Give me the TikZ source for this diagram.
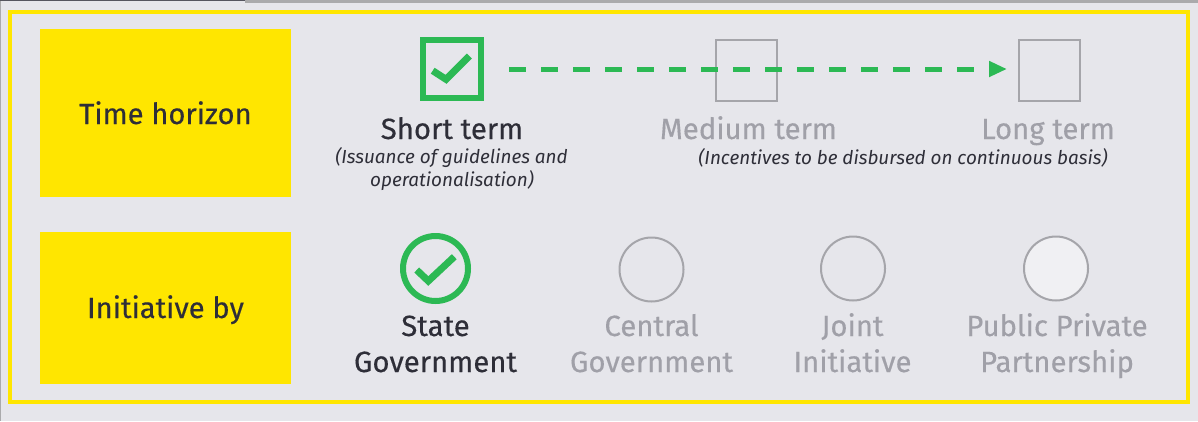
\documentclass[tikz,border=0pt]{standalone}
\usepackage{fontspec}
\setmainfont{Fira Sans}
\newfontfamily\medfira{Fira Sans}[FakeBold=0.35]
\usetikzlibrary{arrows.meta}
\definecolor{bg}{RGB}{230,230,235}
\definecolor{eyyellow}{RGB}{255,230,0}
\definecolor{okgreen}{RGB}{44,185,84}
\definecolor{darktext}{RGB}{46,46,56}
\definecolor{graytext}{RGB}{160,160,168}
\definecolor{graystroke}{RGB}{165,165,170}
\definecolor{pppfill}{RGB}{240,240,243}
\definecolor{edgedark}{RGB}{85,85,95}
\definecolor{edgegray}{RGB}{170,170,172}
\tikzset{
  labelbox/.style={fill=eyyellow, minimum width=251pt, inner sep=0pt, outer sep=0pt},
  labeltext/.style={font=\medfira\fontsize{29.2}{34}\selectfont, text=darktext, anchor=base, inner sep=0pt},
  bigdark/.style={font=\medfira\fontsize{29.3}{34}\selectfont, text=darktext, anchor=base, inner sep=0pt},
  biggray/.style={font=\medfira\fontsize{29.3}{34}\selectfont, text=graytext, anchor=base, inner sep=0pt},
  note/.style={font=\fontsize{18.9}{22}\selectfont\itshape, text=darktext, anchor=base, inner sep=0pt},
  donebox/.style={draw=okgreen, line width=6pt, minimum size=58pt, inner sep=0pt, outer sep=0pt},
  openbox/.style={draw=graystroke, line width=2pt, minimum size=61pt, inner sep=0pt, outer sep=0pt},
  donecircle/.style={circle, draw=okgreen, line width=6pt, minimum size=65pt, inner sep=0pt, outer sep=0pt},
  opencircle/.style={circle, draw=graystroke, line width=2pt, minimum size=64pt, inner sep=0pt, outer sep=0pt},
  tick/.style={draw=okgreen, line width=7pt, line cap=butt, line join=miter},
  flow/.style={draw=okgreen, line width=5pt, dash pattern=on 17pt off 15pt, -{Triangle[length=18pt,width=15pt]}},
}
\begin{document}
\begin{tikzpicture}[x=1pt,y=-1pt]
\useasboundingbox (0,0) rectangle (1198,421);
\fill[bg] (0,0) rectangle (1198,421);
% window edges
\fill[edgegray] (245,0) rectangle (1198,2.5);
\fill[edgedark] (0,0) rectangle (245,1.4);
\fill[edgegray] (0,1.4) rectangle (1.3,421);
% yellow frame
\draw[eyyellow, line width=4pt] (10,12) rectangle (1188,401.5);

% label boxes
\node[labelbox, minimum height=168pt] (lbtime) at (165.5,113) {};
\node[labeltext] (txtime) at (165.5,124) {Time horizon};
\node[labelbox, minimum height=152pt] (lbinit) at (165.5,308) {};
\node[labeltext] (txinit) at (165.5,318) {Initiative by};

% time horizon row
\node[openbox] (sqmed) at (746,70.5) {};
\node[openbox] (sqlong) at (1049,70) {};
\node[donebox] (sqshort) at (452,69) {};
\draw[tick] ([shift={(-19.3,1.7)}]sqshort.center) -- ([shift={(-6,10.3)}]sqshort.center) -- ([shift={(17.3,-13)}]sqshort.center);
\draw[flow] ([xshift=28pt]sqshort.east) -- ([xshift=-11.5pt]sqlong.west |- sqshort.east);

\node[bigdark] (tshort) at (452,139) {Short term};
\node[biggray] (tmed) at (748.5,139) {Medium term};
\node[biggray] (tlong) at (1048,139) {Long term};
\node[note] (nshorta) at (451.5,163) {(Issuance of guidelines and};
\node[note] (nshortb) at (452,186) {operationalisation)};
\node[note] (nlong) at (903,164) {(Incentives to be disbursed on continuous basis)};

% initiative row
\node[donecircle] (cstate) at (435.5,268.5) {};
\draw[tick] ([shift={(-18.8,1.5)}]cstate.center) -- ([shift={(-7.2,12.5)}]cstate.center) -- ([shift={(18.8,-11.8)}]cstate.center);
\node[opencircle] (ccentral) at (651.5,269.5) {};
\node[opencircle] (cjoint) at (853,268.5) {};
\node[opencircle, fill=pppfill] (cppp) at (1056,268.5) {};

\node[bigdark] (istatea) at (435.5,336) {State};
\node[bigdark] (istateb) at (435.5,372) {Government};
\node[biggray] (icentrala) at (651.5,336) {Central};
\node[biggray] (icentralb) at (651.5,372) {Government};
\node[biggray] (ijointa) at (852.5,336) {Joint};
\node[biggray] (ijointb) at (852.5,372) {Initiative};
\node[biggray] (ipppa) at (1057,336) {Public Private};
\node[biggray] (ipppb) at (1057,372) {Partnership};
\end{tikzpicture}
\end{document}
